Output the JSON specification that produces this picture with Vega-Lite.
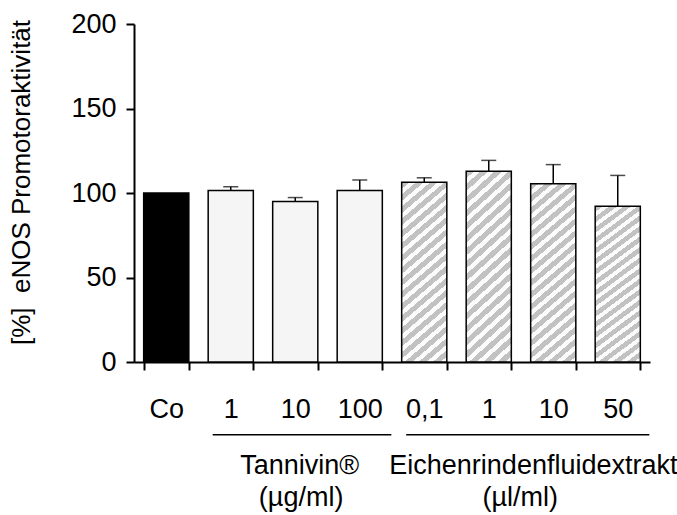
{
  "$schema": "https://vega.github.io/schema/vega-lite/v6.json",
  "width": 516,
  "height": 338,
  "autosize": {"type": "none"},
  "padding": {"left": 134, "top": 24, "right": 27, "bottom": 153},
  "background": "white",
  "config": {
    "view": {"stroke": null},
    "font": "Liberation Sans"
  },
  "datasets": {
    "bars": [
      {"cat": "Co", "kind": "control", "value": 100, "upper": null},
      {"cat": "T1", "kind": "tannivin", "value": 101.5, "upper": 103.7},
      {"cat": "T10", "kind": "tannivin", "value": 95, "upper": 97.3},
      {"cat": "T100", "kind": "tannivin", "value": 101.5, "upper": 107.7},
      {"cat": "E0,1", "kind": "eichen", "value": 106.3, "upper": 109},
      {"cat": "E1", "kind": "eichen", "value": 112.8, "upper": 119.3},
      {"cat": "E10", "kind": "eichen", "value": 105.5, "upper": 116.8},
      {"cat": "E50", "kind": "eichen", "value": 92.1, "upper": 110.4}
    ],
    "groups": [
      {"group": "Tannivin®", "unit": "(µg/ml)", "first": "T1", "last": "T100", "mid": "T10"},
      {"group": "Eichenrindenfluidextrakt", "unit": "(µl/ml)", "first": "E0,1", "last": "E50", "mid": "E10"}
    ]
  },
  "encoding": {
    "x": {
      "field": "cat",
      "type": "nominal",
      "sort": null,
      "scale": {
        "domain": ["Co", "T1", "T10", "T100", "E0,1", "E1", "E10", "E50"],
        "paddingInner": 0.3,
        "paddingOuter": 0.15
      },
      "axis": {
        "title": null,
        "labelAngle": 0,
        "labelExpr": "replace(datum.label, /^[TE]/, '')",
        "labelFont": "Liberation Sans",
        "labelFontSize": 27,
        "labelColor": "black",
        "labelBaseline": "alphabetic",
        "labelPadding": 47,
        "tickBand": "extent",
        "tickSize": 8,
        "tickWidth": 2,
        "tickColor": "black",
        "domainWidth": 2,
        "domainColor": "black",
        "grid": false
      }
    }
  },
  "layer": [
    {
      "data": {"name": "bars"},
      "transform": [{"filter": "datum.kind !== 'eichen'"}],
      "mark": {"type": "bar", "stroke": "black", "strokeWidth": 1.5},
      "encoding": {
        "y": {
          "field": "value",
          "type": "quantitative",
          "scale": {"domain": [0, 200], "nice": false},
          "axis": {
            "title": "[%]\u00a0 eNOS Promotoraktivität",
            "titleFont": "Liberation Sans",
            "titleFontSize": 26,
            "titleFontWeight": "normal",
            "titleColor": "black",
            "titlePadding": 36,
            "titleY": 158,
            "values": [0, 50, 100, 150, 200],
            "labelFont": "Liberation Sans",
            "labelFontSize": 27,
            "labelColor": "black",
            "labelPadding": 10,
            "tickSize": 8,
            "tickWidth": 2,
            "tickColor": "black",
            "domainWidth": 2,
            "domainColor": "black",
            "grid": false
          }
        },
        "fill": {
          "field": "kind",
          "type": "nominal",
          "scale": {"domain": ["control", "tannivin"], "range": ["#000000", "#f5f5f5"]},
          "legend": null
        }
      }
    },
    {
      "data": {"name": "bars"},
      "transform": [{"filter": "datum.kind === 'eichen'"}],
      "mark": {
        "type": "bar",
        "stroke": "black",
        "strokeWidth": 1.5,
        "fill": {
          "gradient": "linear",
          "x1": 0, "y1": 0, "x2": 0.2498, "y2": 1.1615,
          "stops": [
            {"offset": 0, "color": "#c2c2c2"}, {"offset": 0.030556, "color": "#c2c2c2"}, {"offset": 0.030556, "color": "#fcfcfc"}, {"offset": 0.055556, "color": "#fcfcfc"},
            {"offset": 0.055556, "color": "#c2c2c2"}, {"offset": 0.086111, "color": "#c2c2c2"}, {"offset": 0.086111, "color": "#fcfcfc"}, {"offset": 0.111111, "color": "#fcfcfc"},
            {"offset": 0.111111, "color": "#c2c2c2"}, {"offset": 0.141667, "color": "#c2c2c2"}, {"offset": 0.141667, "color": "#fcfcfc"}, {"offset": 0.166667, "color": "#fcfcfc"},
            {"offset": 0.166667, "color": "#c2c2c2"}, {"offset": 0.197222, "color": "#c2c2c2"}, {"offset": 0.197222, "color": "#fcfcfc"}, {"offset": 0.222222, "color": "#fcfcfc"},
            {"offset": 0.222222, "color": "#c2c2c2"}, {"offset": 0.252778, "color": "#c2c2c2"}, {"offset": 0.252778, "color": "#fcfcfc"}, {"offset": 0.277778, "color": "#fcfcfc"},
            {"offset": 0.277778, "color": "#c2c2c2"}, {"offset": 0.308333, "color": "#c2c2c2"}, {"offset": 0.308333, "color": "#fcfcfc"}, {"offset": 0.333333, "color": "#fcfcfc"},
            {"offset": 0.333333, "color": "#c2c2c2"}, {"offset": 0.363889, "color": "#c2c2c2"}, {"offset": 0.363889, "color": "#fcfcfc"}, {"offset": 0.388889, "color": "#fcfcfc"},
            {"offset": 0.388889, "color": "#c2c2c2"}, {"offset": 0.419444, "color": "#c2c2c2"}, {"offset": 0.419444, "color": "#fcfcfc"}, {"offset": 0.444444, "color": "#fcfcfc"},
            {"offset": 0.444444, "color": "#c2c2c2"}, {"offset": 0.475, "color": "#c2c2c2"}, {"offset": 0.475, "color": "#fcfcfc"}, {"offset": 0.5, "color": "#fcfcfc"},
            {"offset": 0.5, "color": "#c2c2c2"}, {"offset": 0.530556, "color": "#c2c2c2"}, {"offset": 0.530556, "color": "#fcfcfc"}, {"offset": 0.555556, "color": "#fcfcfc"},
            {"offset": 0.555556, "color": "#c2c2c2"}, {"offset": 0.586111, "color": "#c2c2c2"}, {"offset": 0.586111, "color": "#fcfcfc"}, {"offset": 0.611111, "color": "#fcfcfc"},
            {"offset": 0.611111, "color": "#c2c2c2"}, {"offset": 0.641667, "color": "#c2c2c2"}, {"offset": 0.641667, "color": "#fcfcfc"}, {"offset": 0.666667, "color": "#fcfcfc"},
            {"offset": 0.666667, "color": "#c2c2c2"}, {"offset": 0.697222, "color": "#c2c2c2"}, {"offset": 0.697222, "color": "#fcfcfc"}, {"offset": 0.722222, "color": "#fcfcfc"},
            {"offset": 0.722222, "color": "#c2c2c2"}, {"offset": 0.752778, "color": "#c2c2c2"}, {"offset": 0.752778, "color": "#fcfcfc"}, {"offset": 0.777778, "color": "#fcfcfc"},
            {"offset": 0.777778, "color": "#c2c2c2"}, {"offset": 0.808333, "color": "#c2c2c2"}, {"offset": 0.808333, "color": "#fcfcfc"}, {"offset": 0.833333, "color": "#fcfcfc"},
            {"offset": 0.833333, "color": "#c2c2c2"}, {"offset": 0.863889, "color": "#c2c2c2"}, {"offset": 0.863889, "color": "#fcfcfc"}, {"offset": 0.888889, "color": "#fcfcfc"},
            {"offset": 0.888889, "color": "#c2c2c2"}, {"offset": 0.919444, "color": "#c2c2c2"}, {"offset": 0.919444, "color": "#fcfcfc"}, {"offset": 0.944444, "color": "#fcfcfc"},
            {"offset": 0.944444, "color": "#c2c2c2"}, {"offset": 0.975, "color": "#c2c2c2"}, {"offset": 0.975, "color": "#fcfcfc"}, {"offset": 1, "color": "#fcfcfc"}
          ]
        }
      },
      "encoding": {
        "y": {"field": "value", "type": "quantitative"}
      }
    },
    {
      "data": {"name": "bars"},
      "transform": [{"filter": "datum.upper != null"}],
      "mark": {"type": "rule", "color": "black", "strokeWidth": 1.5},
      "encoding": {
        "y": {"field": "value", "type": "quantitative"},
        "y2": {"field": "upper"}
      }
    },
    {
      "data": {"name": "bars"},
      "transform": [{"filter": "datum.upper != null"}],
      "mark": {"type": "tick", "color": "black", "size": 15, "thickness": 1.5},
      "encoding": {
        "y": {"field": "upper", "type": "quantitative"}
      }
    },
    {
      "data": {"name": "groups"},
      "mark": {"type": "rule", "color": "black", "strokeWidth": 1.5, "clip": false},
      "encoding": {
        "x": {"field": "first", "type": "nominal", "bandPosition": 0.1},
        "x2": {"field": "last", "bandPosition": 1.2},
        "y": {"datum": -43, "type": "quantitative"}
      }
    },
    {
      "data": {"name": "groups"},
      "transform": [{"filter": "datum.first == 'T1'"}],
      "mark": {"type": "text", "font": "Liberation Sans", "fontSize": 27, "color": "black", "baseline": "alphabetic", "align": "center"},
      "encoding": {
        "x": {"field": "mid", "type": "nominal", "bandPosition": 0.6},
        "y": {"datum": -66, "type": "quantitative"},
        "text": {"field": "group"}
      }
    },
    {
      "data": {"name": "groups"},
      "transform": [{"filter": "datum.first == 'T1'"}],
      "mark": {"type": "text", "font": "Liberation Sans", "fontSize": 27, "color": "black", "baseline": "alphabetic", "align": "center"},
      "encoding": {
        "x": {"field": "mid", "type": "nominal", "bandPosition": 0.63},
        "y": {"datum": -85, "type": "quantitative"},
        "text": {"field": "unit"}
      }
    },
    {
      "data": {"name": "groups"},
      "transform": [{"filter": "datum.first == 'E0,1'"}],
      "mark": {"type": "text", "font": "Liberation Sans", "fontSize": 27, "color": "black", "baseline": "alphabetic", "align": "center"},
      "encoding": {
        "x": {"field": "mid", "type": "nominal", "bandPosition": 0.06},
        "y": {"datum": -66, "type": "quantitative"},
        "text": {"field": "group"}
      }
    },
    {
      "data": {"name": "groups"},
      "transform": [{"filter": "datum.first == 'E0,1'"}],
      "mark": {"type": "text", "font": "Liberation Sans", "fontSize": 27, "color": "black", "baseline": "alphabetic", "align": "center"},
      "encoding": {
        "x": {"field": "mid", "type": "nominal", "bandPosition": -0.23},
        "y": {"datum": -85, "type": "quantitative"},
        "text": {"field": "unit"}
      }
    }
  ]
}
